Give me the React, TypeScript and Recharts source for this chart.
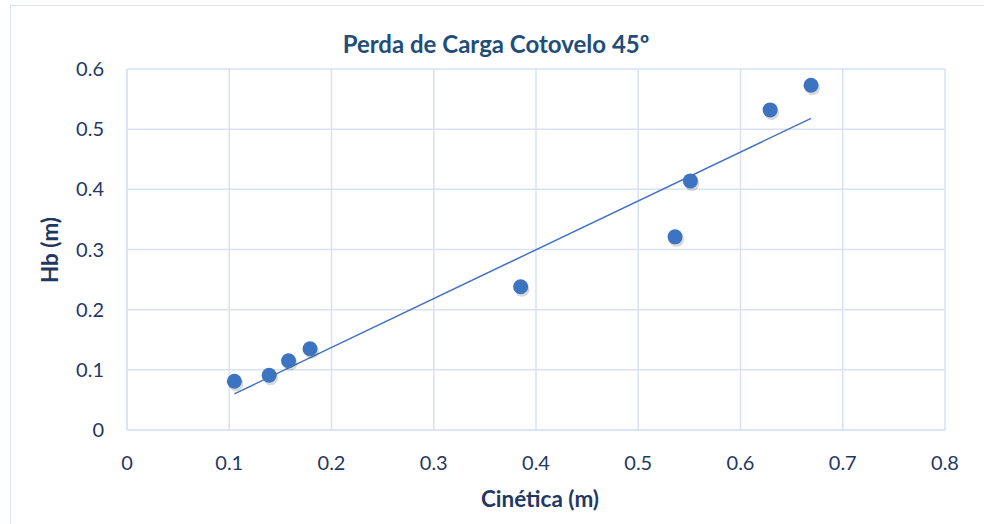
import React from 'react';
import { ScatterChart, Scatter, XAxis, YAxis, CartesianGrid } from 'recharts';

const cinetica = [0.105, 0.139, 0.158, 0.179, 0.385, 0.536, 0.551, 0.629, 0.669];
const hb = [0.081, 0.091, 0.115, 0.135, 0.238, 0.321, 0.414, 0.532, 0.573];

// linear trendline end points (as drawn)
const trendX = [0.105, 0.669];
const trendY = [0.060, 0.518];

const xTicks = [0, 0.1, 0.2, 0.3, 0.4, 0.5, 0.6, 0.7, 0.8];
const yTicks = [0, 0.1, 0.2, 0.3, 0.4, 0.5, 0.6];

const FONT = 'Lato, "Open Sans", sans-serif';
const TEXT = '#1F3864';
const GRID = '#D9E2F3';
const BLUE = '#3D74C2';

const Dot = (props: any) => {
  const { cx, cy } = props;
  return (
    <g>
      <circle cx={cx + 1.5} cy={cy + 2.5} r={7.5} fill="rgba(0,0,0,0.15)" />
      <circle cx={cx} cy={cy} r={7.5} fill={BLUE} />
    </g>
  );
};

const App = () => {
  const points = cinetica.map((x, i) => ({ x, y: hb[i] }));
  const trend = trendX.map((x, i) => ({ x, y: trendY[i] }));

  return (
    <div style={{ position: 'absolute', left: 0, top: 0, width: 984, height: 524, overflow: 'hidden', background: '#fff', fontFamily: FONT }}>
      <div style={{ position: 'absolute', left: 10, top: 5, width: 1000, height: 600, border: `1.5px solid ${GRID}`, boxSizing: 'border-box' }} />
      <ScatterChart width={984} height={524} margin={{ top: 69, right: 39, bottom: 64, left: 67 }} style={{ position: 'absolute', left: 0, top: 0 }}>
        <CartesianGrid stroke={GRID} strokeWidth={1.5} />
        <XAxis
          type="number"
          dataKey="x"
          domain={[0, 0.8]}
          ticks={xTicks}
          height={30}
          axisLine={{ stroke: GRID, strokeWidth: 1.5 }}
          tickLine={false}
          tickMargin={20}
          tick={{ fill: TEXT, fontSize: 20, fontFamily: FONT }}
        />
        <YAxis
          type="number"
          dataKey="y"
          domain={[0, 0.6]}
          ticks={yTicks}
          width={60}
          axisLine={{ stroke: GRID, strokeWidth: 1.5 }}
          tickLine={false}
          tickMargin={17}
          tick={{ fill: TEXT, fontSize: 20, fontFamily: FONT }}
        />
        <Scatter data={trend} line={{ stroke: '#4472C4', strokeWidth: 1.5 }} shape={() => <g />} isAnimationActive={false} legendType="none" />
        <Scatter data={points} shape={Dot} isAnimationActive={false} />
      </ScatterChart>
      <div style={{ position: 'absolute', left: 0, width: 992, top: 29, textAlign: 'center', fontSize: 24, fontWeight: 700, color: '#1F4E79', lineHeight: '30px' }}>
        Perda de Carga Cotovelo 45º
      </div>
      <div style={{ position: 'absolute', left: 0, width: 1080, top: 484, textAlign: 'center', fontSize: 22.5, fontWeight: 700, color: TEXT, lineHeight: '30px' }}>
        Cinética (m)
      </div>
      <div style={{ position: 'absolute', left: 0, top: 250 - 15, width: 100, textAlign: 'center', fontSize: 22.5, fontWeight: 700, color: TEXT, lineHeight: '30px', transform: 'rotate(-90deg)' }}>
        Hb (m)
      </div>
    </div>
  );
};

export default App;
